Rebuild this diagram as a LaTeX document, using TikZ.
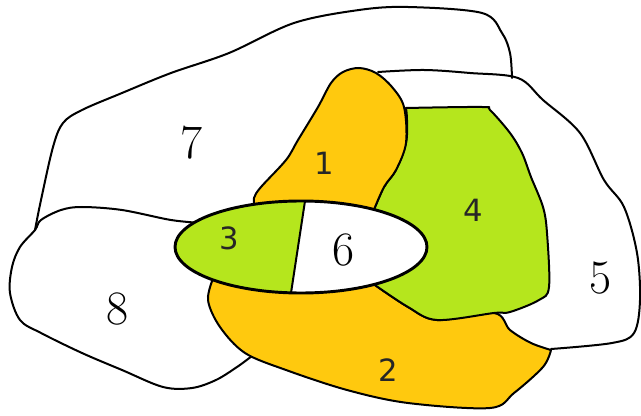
\documentclass[tikz,border=0pt]{standalone}
\usepackage{fontspec}
\newfontfamily\labelsans{DejaVu Sans}
\usetikzlibrary{calc}
\definecolor{gold}{HTML}{FFC90E}
\definecolor{lime}{HTML}{B5E61D}
\tikzset{
  rim/.style={line width=1.5pt,line join=round,line cap=round},
  sanslbl/.style={font=\labelsans\fontsize{23}{26}\selectfont,text=black!85,inner sep=0pt},
  seriflbl/.style={font=\fontsize{36}{40}\selectfont,inner sep=0pt},
}

\begin{document}
\begin{tikzpicture}[x=0.75pt,y=-0.75pt]
  \useasboundingbox (0,0) rectangle (641,416);
  \coordinate (core) at (301,247);

  % outline of region 7
  \draw[rim] plot[smooth,tension=0.55] coordinates {(35,230) (41,200) (53,147) (63,123) (82,110)
    (122,93) (171,73) (229,53) (294,23) (359,10) (408,7) (482,13) (502,33) (510,53) (512,78)};

  % outline of region 5
  \draw[rim] plot[smooth,tension=0.55] coordinates {(378,72) (424,70) (470,73) (518,78) (543,100)
    (580,133) (604,180) (624,207) (637,253) (640,300) (634,333) (612,343) (551,349)};

  % outline of region 8
  \draw[rim] plot[smooth,tension=0.55] coordinates {(202,223) (171,220) (122,210) (82,207) (61,210)
    (41,220) (35,230) (20,247) (12,267) (10,293) (20,320) (41,333) (82,353) (122,370)
    (163,387) (192,388) (216,380) (237,367) (252,356)};

  % region 2
  \filldraw[rim,fill=gold] plot[smooth,tension=0.55] coordinates {(372,283) (408,307) (437,320)
    (494,313) (510,330) (531,343) (551,350)}
    -- plot[smooth,tension=0.55] coordinates {(551,350) (543,367) (514,393) (490,408) (408,403)
    (347,390) (286,370) (245,353) (220,327) (208,300) (214,276)} -- (core) -- cycle;

  % region 4
  \filldraw[rim,fill=lime] plot[smooth,tension=0.55] coordinates {(373,212) (384,187) (396,170)
    (406,143) (407,120) (406,108)}
    -- plot[smooth,tension=0.55] coordinates {(406,108) (482,107) (490,110) (510,133) (522,153)
    (531,177) (543,207) (547,233) (549,287) (539,300) (510,312) (494,313) (437,320) (408,307)
    (372,283)} -- (core) -- cycle;

  % region 1
  \filldraw[rim,fill=gold] plot[smooth,tension=0.55] coordinates {(373,212) (384,187) (396,170)
    (406,143) (404,107) (392,87) (376,73) (359,68) (343,72) (331,83) (318,107) (298,140)
    (286,160) (261,187) (254,198) (255,208)} -- (core) -- cycle;

  % regions 3 and 6 inside the ellipse
  \fill[white] (core) ellipse [x radius=94.5pt,y radius=34.5pt];
  \begin{scope}
    \clip (core) ellipse [x radius=94.5pt,y radius=34.5pt];
    \fill[lime] (150,180) -- (308.2,180) -- (288.4,310) -- (150,310) -- cycle;
  \end{scope}
  \draw[rim] (305,201) -- (291,293);
  \draw[line width=2.2pt] (core) ellipse [x radius=94.5pt,y radius=34.5pt];

  % labels
  \node[sanslbl] (l1) at (324,163) {1};
  \node[sanslbl] (l2) at (388,370) {2};
  \node[sanslbl] (l3) at (229,238) {3};
  \node[sanslbl] (l4) at (473,210) {4};
  \node[seriflbl] (l5) at (601,278) {5};
  \node[seriflbl] (l6) at (344,250) {6};
  \node[seriflbl] (l7) at (192,143) {7};
  \node[seriflbl] (l8) at (118,309) {8};
\end{tikzpicture}
\end{document}
